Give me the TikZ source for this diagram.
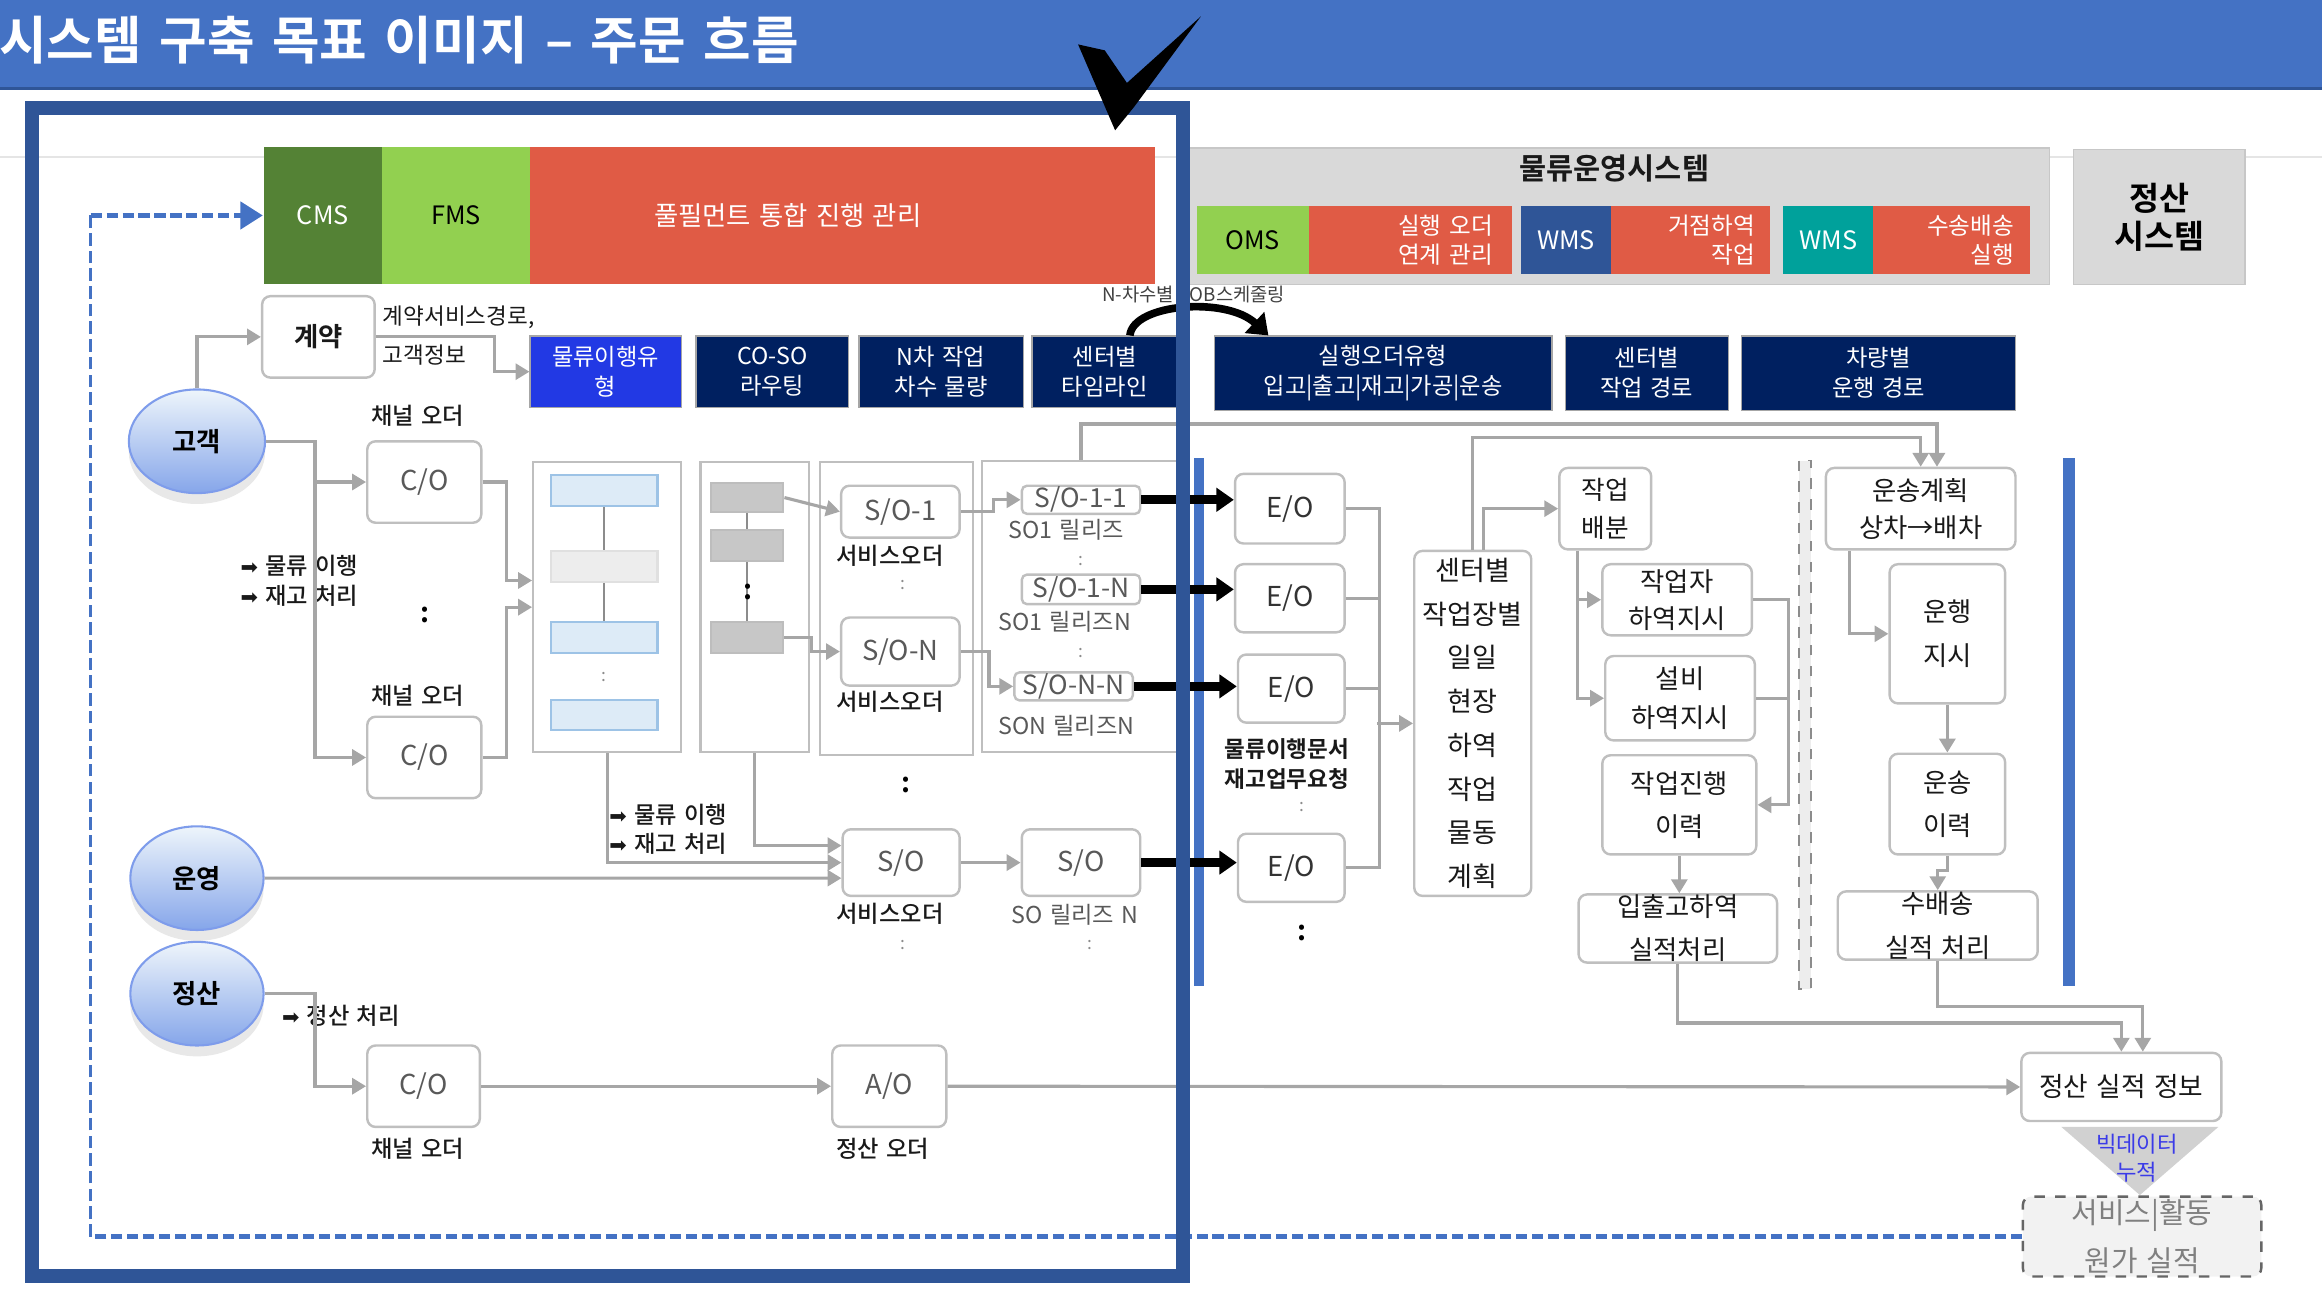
\documentclass[tikz,border=0pt]{standalone}
\usepackage{fontspec}
\setmainfont{Noto Sans CJK KR}[BoldFont={Noto Sans CJK KR Bold},WordSpace=1.4]
\newfontfamily\medfont{Noto Sans CJK KR Medium}[WordSpace=1.4]
\newfontfamily\titlefont{Noto Sans CJK KR Bold}[WordSpace=1.5]
\newfontfamily\symfont{DejaVu Sans}
\usetikzlibrary{arrows.meta,calc,shapes.geometric,shadows}

\definecolor{titleblue}{HTML}{4472C4}
\definecolor{framblue}{HTML}{2F5597}
\definecolor{cmsgreen}{HTML}{548235}
\definecolor{fmsgreen}{HTML}{92D050}
\definecolor{fred}{HTML}{E05B45}
\definecolor{navy}{HTML}{002060}
\definecolor{flowblue}{HTML}{2239E4}
\definecolor{wmsteal}{HTML}{00A19B}
\definecolor{panelgray}{HTML}{D9D9D9}
\definecolor{boxgray}{HTML}{BFBFBF}
\definecolor{linegray}{HTML}{A6A6A6}
\definecolor{txtgray}{HTML}{595959}
\definecolor{ltblue}{HTML}{DDEBF7}
\definecolor{ltblueb}{HTML}{9DC3E6}
\definecolor{bdblue}{HTML}{3B3BE8}

\newcommand\harr{{\symfont\fontsize{6}{6}\selectfont ➡}}

\tikzset{
  sz/.style 2 args={minimum width=#1*0.15mm,minimum height=#2*0.15mm},
  fs/.style 2 args={font=\fontsize{#1}{#2}\selectfont},
  bar/.style={inner sep=0pt,align=center,fs={7.3}{9}},
  subx/.style={fill=fred,text=white,align=right,inner ysep=0pt,minimum height=46*0.15mm,fs={6.8}{8.3}},
  navbox/.style={fill=navy,draw=black!35,line width=0.4pt,text=white,inner sep=0pt,align=center,fs={6.7}{8.7}},
  wbox/.style={draw=boxgray,fill=white,line width=0.7pt,rounded corners=2.4pt,inner sep=0pt,align=center,text=black!90,fs={7.5}{10.8}},
  obox/.style={wbox,text=txtgray,fs={7.9}{9}},
  colbox/.style={draw=boxgray,line width=0.6pt,inner sep=0pt},
  graybox/.style={colbox,fill=black!22,draw=black!26},
  lbl/.style={inner sep=0pt,align=center,text=black!90,fs={6.5}{8.5}},
  mlbl/.style={lbl,font=\fontsize{6.7}{8.6}\selectfont\medfont},
  relbl/.style={lbl,text=txtgray,fs={6.7}{8}},
  dotsm/.style={inner sep=0pt,text=black!45,fs={5}{6}},
  dotbig/.style={inner sep=0pt,font=\fontsize{8}{9}\selectfont\bfseries},
  ball/.style={ellipse,inner sep=0pt,draw=ltblueb!80!blue,line width=0.6pt,
    top color=ltblue!50!white,bottom color=ltblueb!85!blue,
    font=\fontsize{7.6}{9}\selectfont\bfseries,
    drop shadow={shadow xshift=0pt,shadow yshift=-1.1mm,opacity=0.18}},
  conn/.style={draw=linegray,line width=0.9pt,-{Triangle[width=4.6pt,length=4pt]}},
  cline/.style={draw=linegray,line width=0.9pt},
  bigarr/.style={line width=2.6pt,-{Triangle[width=6.6pt,length=5pt]}},
  bluedash/.style={draw=titleblue,line width=1.6pt,dash pattern=on 3.2pt off 1.4pt},
  blueside/.style={draw=titleblue,line width=0.9pt,dash pattern=on 3.6pt off 1.5pt}
}

\begin{document}
\begin{tikzpicture}[x=0.15mm,y=-0.15mm]
  \useasboundingbox (0,0) rectangle (1568,883);
  % title bar
  \fill[titleblue] (0,0) rectangle (1568,60);
  \draw[framblue,line width=0.8pt] (0,60) -- (1568,60);
  \draw[black!10,line width=0.6pt] (0,106) -- (1568,106);
  \node[anchor=west,inner sep=0pt,text=white,font=\fontsize{14.9}{16}\titlefont] (title) at (-1,27) {시스템 구축 목표 이미지 – 주문 흐름};

  % fulfilment bar
  \node[bar,sz={80}{93},fill=cmsgreen,text=white] (cms) at (218,145.5) {CMS};
  \node[bar,sz={100}{93},fill=fmsgreen] (fms) at (308,145.5) {FMS};
  \node[bar,sz={422}{93},fill=fred] (fulfil) at (569,145.5) {};
  \node[bar,text=white,fs={7.6}{9}] (fulfilT) at (532,145.5) {풀필먼트 통합 진행 관리};

  % logistics operation system
  \node[bar,sz={581}{92},fill=panelgray,draw=black!22] (lmsys) at (1093.5,146) {};
  \node[lbl,font=\fontsize{8.5}{10}\selectfont\bfseries] (lmsT) at (1090,114) {물류운영시스템};
  \node[bar,sz={76}{46},fill=fmsgreen] (oms) at (846,162) {OMS};
  \node[subx,text width=16.65mm,inner xsep=1.95mm] (omsx) at (952.5,162) {실행 오더\\연계 관리};
  \node[bar,sz={61}{46},fill=framblue,text=white] (wmsa) at (1057.5,162) {WMS};
  \node[subx,text width=13.05mm,inner xsep=1.5mm] (wmsax) at (1141.5,162) {거점하역\\작업};
  \node[bar,sz={61}{46},fill=wmsteal,text=white] (wmsb) at (1234.5,162) {WMS};
  \node[subx,text width=12.6mm,inner xsep=1.65mm] (wmsbx) at (1318,162) {수송배송\\실행};
  \node[bar,sz={116}{91},fill=panelgray,draw=black!22,font=\fontsize{9.4}{10.9}\selectfont\bfseries] (setsys) at (1458,146.5) {정산\\시스템};

  % navy row
  \node[navbox,sz={102}{48},fill=flowblue] (ftype) at (409,251) {물류이행유\\형};
  \node[navbox,sz={103}{48}] (cosor) at (521.5,251) {CO-SO\\라우팅};
  \node[navbox,sz={111}{48}] (nord) at (635.5,251) {N차 작업\\차수 물량};
  \node[navbox,sz={98}{48}] (tline) at (746,251) {센터별\\타임라인};
  \node[navbox,sz={228}{50}] (etype) at (934,252) {실행오더유형\\입고|출고|재고|가공|운송};
  \node[navbox,sz={110}{50}] (wpath) at (1112,252) {센터별\\작업 경로};
  \node[navbox,sz={185}{50}] (vpath) at (1268.5,252) {차량별\\운행 경로};
  \node[lbl,text=black!75,fs={5.4}{6}] (joblbl) at (806,199) {N-차수별 JOB스케줄링};
  \draw[line width=2.2pt,-{Triangle[width=8pt,length=5.5pt]}] ($(tline.north)+(17,0)$) .. controls (765,205) and (828,200) .. ($(etype.north west)+(37,0)$);

  % customer, contract
  \node[ball,sz={92}{70}] (cust) at (133,298) {고객};
  \node[ball,sz={90}{70}] (ops) at (133,593) {운영};
  \node[ball,sz={90}{70}] (settle) at (133,671) {정산};
  \node[wbox,sz={76}{55},font=\fontsize{7.6}{9}\selectfont\bfseries] (contract) at (215,227.5) {계약};
  \node[lbl,anchor=west] (contr1) at (258,214) {계약서비스경로,};
  \node[lbl,anchor=west] (contr2) at (258,240) {고객정보};

  % channel orders
  \node[mlbl] (chn1) at (282,281) {채널 오더};
  \node[obox,sz={77}{55}] (co1) at (286.5,325.5) {C/O};
  \node[mlbl] (chn2) at (282,470) {채널 오더};
  \node[obox,sz={77}{55}] (co2) at (286.5,511.5) {C/O};
  \node[mlbl,anchor=west,align=left] (flowA) at (162,392) {\harr\ 물류 이행\\\harr\ 재고 처리};

  % stacked order columns
  \node[colbox,sz={100}{196}] (col1) at (410,410) {};
  \node[colbox,fill=ltblue,draw=ltblueb,sz={72}{21}] (lb1) at (408,331.5) {};
  \node[colbox,fill=ltblue,draw=ltblueb,sz={72}{21}] (lb3) at (408,430.5) {};
  \node[colbox,fill=ltblue,draw=ltblueb,sz={72}{20}] (lb4) at (408,483) {};
  \draw[black!45,line width=0.5pt] (lb1.south) -- (lb3.north);
  \node[colbox,fill=black!7,draw=black!12,sz={72}{21}] (lb2) at (408,382.5) {};

  \node[colbox,sz={73}{196}] (col2) at (509.5,410) {};
  \node[graybox,sz={49}{20}] (g1) at (504.5,336) {};
  \node[graybox,sz={49}{21}] (g3) at (504.5,430.5) {};
  \draw[black!45,line width=0.5pt] (g1.south) -- (g3.north);
  \node[graybox,sz={49}{21}] (g2) at (504.5,368.5) {};

  \node[colbox,sz={103}{198}] (col3) at (605.5,411) {};
  \node[obox,sz={80}{35}] (so1) at (608,345.5) {S/O-1};
  \node[mlbl] (svc1) at (601,375) {서비스오더};
  \node[obox,sz={80}{46}] (soN) at (608,440) {S/O-N};
  \node[mlbl] (svc2) at (601,474) {서비스오더};

  \node[colbox,sz={134}{197}] (col4) at (730,409.5) {};
  \node[obox,sz={80}{19},rounded corners=1.5pt,fs={7.6}{8}] (r11) at (730,337.5) {S/O-1-1};
  \node[relbl] (rel1) at (720,358) {SO1 릴리즈};
  \node[obox,sz={80}{20},rounded corners=1.5pt,fs={7.6}{8}] (r1N) at (730,398) {S/O-1-N};
  \node[relbl] (rel2) at (719,420) {SO1 릴리즈N};
  \node[obox,sz={80}{19},rounded corners=1.5pt,fs={7.6}{8}] (rNN) at (725,463.5) {S/O-N-N};
  \node[relbl] (rel3) at (720,490) {SON 릴리즈N};

  % service orders from operation
  \node[obox,sz={79}{45}] (so) at (608.5,582.5) {S/O};
  \node[mlbl] (svc3) at (601,617) {서비스오더};
  \node[obox,sz={80}{45}] (sor) at (730,582.5) {S/O};
  \node[relbl] (rel4) at (726,618) {SO 릴리즈 N};
  \node[mlbl,anchor=west,align=left] (flowB) at (411,560) {\harr\ 물류 이행\\\harr\ 재고 처리};

  % settlement orders
  \node[mlbl,anchor=west] (setproc) at (190,686) {\harr\ 정산 처리};
  \node[obox,sz={76}{55}] (co3) at (286,733.5) {C/O};
  \node[mlbl] (chn3) at (282,776) {채널 오더};
  \node[obox,sz={77}{55}] (ao) at (600.5,733.5) {A/O};
  \node[mlbl] (settleord) at (596,776) {정산 오더};

  \foreach \x/\y [count=\k] in {610/395,730/379,730/441,610/638,736/638,879/545,408/457}
    \node[dotsm] (sdot\k) at (\x,\y) {:};
  \foreach \x/\y [count=\k] in {287/415,505/400,612/530,879/630}
    \node[dotbig] (bdot\k) at (\x,\y) {:};

  % execution side
  \fill[titleblue] (806,309) rectangle (813,666);
  \fill[titleblue] (1393,309) rectangle (1401,666);
  \draw[black!45,dashed,fill=black!7,line width=0.5pt] (1215,311) rectangle (1223,668);
  \node[obox,sz={74}{47},text=black!80] (eo1) at (871,343.5) {E/O};
  \node[obox,sz={74}{46},text=black!80] (eo2) at (871,404) {E/O};
  \node[obox,sz={72}{46},text=black!80] (eo3) at (872,465) {E/O};
  \node[obox,sz={72}{46},text=black!80] (eo4) at (872,586) {E/O};
  \node[lbl,font=\fontsize{6.5}{8.6}\selectfont\bfseries] (eodoc) at (869,516) {물류이행문서\\재고업무요청};

  \node[wbox,sz={79}{233},fs={7.8}{12.6}] (plan) at (994.5,488.5) {센터별\\작업장별\\일일\\현장\\하역\\작업\\물동\\계획};
  \node[wbox,sz={62}{55},fs={7.4}{11}] (alloc) at (1084,343.5) {작업\\배분};
  \node[wbox,sz={101}{48},fs={7.6}{10.7}] (wkr) at (1132.5,405) {작업자\\하역지시};
  \node[wbox,sz={101}{57},fs={7.6}{11.1}] (eqp) at (1134.5,471.5) {설비\\하역지시};
  \node[wbox,sz={104}{67},fs={7.6}{12.4}] (prog) at (1134,543.5) {작업진행\\이력};
  \node[wbox,sz={134}{46},fs={7.6}{12.4}] (iores) at (1133,627) {입출고하역\\실적처리};
  \node[wbox,sz={128}{55},fs={7.6}{10.7}] (tplan) at (1297,343.5) {운송계획\\상차→배차};
  \node[wbox,sz={78}{94},fs={7.6}{12.8}] (drive) at (1315,428) {운행\\지시};
  \node[wbox,sz={78}{68},fs={7.6}{12.4}] (thist) at (1315,543) {운송\\이력};
  \node[wbox,sz={135}{46},fs={7.6}{12.8}] (tres) at (1308.5,625) {수배송\\실적 처리};

  % settlement result
  \node[wbox,sz={135}{46},fs={7.7}{9}] (sinfo) at (1432.5,734) {정산 실적 정보};
  \fill[black!18] (1392,761) -- (1498,761) -- (1445,807) -- cycle;
  \node[lbl,text=bdblue,fs={6.4}{8.1}] (bigdata) at (1443,782) {빅데이터\\누적};
  \node[wbox,sz={161}{54},dashed,draw=black!60,fill=black!5,text=black!50,fs={8.3}{13.7}] (sact) at (1446.5,835) {서비스|활동\\원가 실적};

  % connectors
  \draw[conn] (cust.north) |- (contract.west);
  \draw[conn] (contract.east) -- ++(80,0) |- (ftype.west);
  \draw[conn] (cust.east) -- ++(33,0) |- (co1.west);
  \draw[conn] (cust.east) -- ++(33,0) |- (co2.west);
  \draw[conn] (co1.east) -- ++(16,0) |- ($(col1.west)+(0,-18)$);
  \draw[conn] (co2.east) -- ++(16,0) |- (col1.west);
  \draw[conn] (g1.east) -- (so1.west);
  \draw[conn] (g3.east) -- ++(18,0) |- (soN.west);
  \draw[conn] (so1.east) -- ++(22,0) |- (r11.west);
  \draw[conn] (soN.east) -- ++(19,0) |- (rNN.west);
  \draw[conn] (col2.south) |- ($(so.west)+(0,-11.5)$);
  \draw[conn] (col1.south) |- (so.west);
  \draw[conn] (ops.east) -- ($(so.west)+(0,10.5)$);
  \draw[conn] (so.east) -- (sor.west);
  \draw[conn] (settle.east) -- ++(34,0) |- (co3.west);
  \draw[conn] (co3.east) -- (ao.west);
  \draw[conn] (ao.east) -- (sinfo.west);

  \draw[bigarr] (r11.east) -- (r11.east -| eo1.west);
  \draw[bigarr] (r1N.east) -- (r1N.east -| eo2.west);
  \draw[bigarr] (rNN.east) -- (rNN.east -| eo3.west);
  \draw[bigarr] (sor.east) -- (sor.east -| eo4.west);

  \draw[cline] (eo1.east) -- ++(23,0) |- (eo4.east);
  \draw[cline] (eo2.east) -- ++(23,0);
  \draw[cline] (eo3.east) -- ++(23,0);
  \draw[conn] ($(plan.west)+(-24,0)$) -- (plan.west);
  \draw[conn] ($(plan.north)+(7,0)$) |- (alloc.west);
  \draw[conn] (plan.north) -- ++(0,-76) -| (tplan.north);
  \draw[conn] (col4.north) -- ++(0,-24) -| ($(tplan.north)+(11,0)$);
  \draw[conn] ($(alloc.south)+(-19,0)$) |- (wkr.west);
  \draw[conn] ($(alloc.south)+(-19,0)$) |- (eqp.west);
  \draw[conn] (wkr.east) -- ++(24,0) |- (prog.east);
  \draw[cline] (eqp.east) -- ++(22,0);
  \draw[conn] (prog.south) -- (prog.south |- iores.north);
  \draw[conn] ($(tplan.south)+(-48,0)$) |- (drive.west);
  \draw[conn] (drive.south) -- (thist.north);
  \draw[conn] (thist.south) -- ++(0,10) -| (tres.north);
  \draw[conn] (iores.south) -- ++(0,40) -| (sinfo.north);
  \draw[conn] (tres.south) -- ++(0,31) -| ($(sinfo.north)+(14.5,0)$);

  % feedback loop, dashed
  \draw[bluedash] (sact.west) -- ++(-1304,0) coordinate (dashL);
  \draw[blueside] (dashL) -- (dashL |- cms.west) coordinate (dashT);
  \draw[bluedash,-{Triangle[width=7.7pt,length=6.5pt]}] (dashT) -- (cms.west);

  % target frame and check mark
  \draw[framblue,line width=4pt] (21.5,73) rectangle (799,861.5);
  \fill[black] (728,30) -- (746,34) -- (761,56) -- (811,11) -- (766,72) -- (753,88) -- cycle;
\end{tikzpicture}
\end{document}
